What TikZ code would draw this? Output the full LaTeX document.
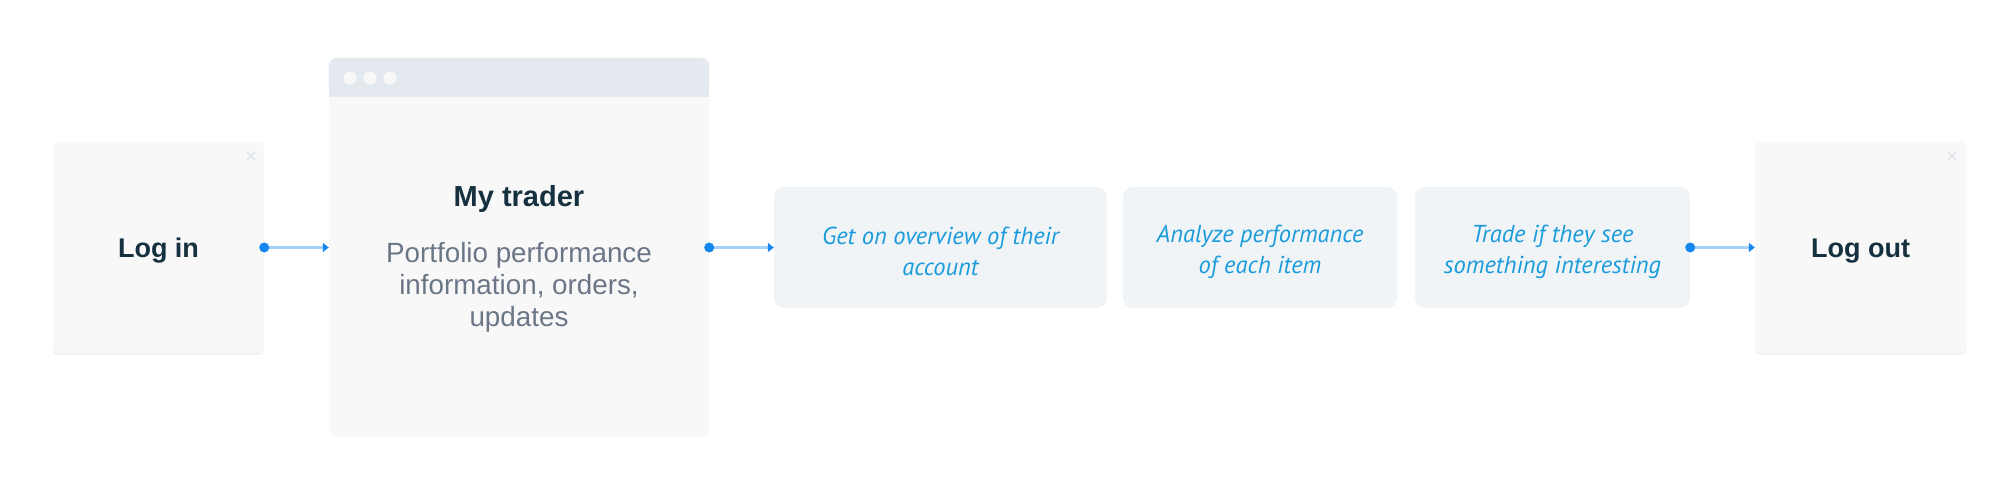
\documentclass[tikz,border=0pt]{standalone}
\usepackage{fontspec}
\setmainfont{Liberation Sans}
\newfontfamily\stepfont{PT Sans}
\usetikzlibrary{arrows.meta}
\definecolor{cardc}{HTML}{F8F8F9}
\definecolor{shadowc}{HTML}{EDF0F4}
\definecolor{barc}{HTML}{E4E9F0}
\definecolor{stepc}{HTML}{F0F4F7}
\definecolor{titlec}{HTML}{15303F}
\definecolor{bodyc}{HTML}{6B7786}
\definecolor{bluetext}{HTML}{1A9BDB}
\definecolor{dotc}{HTML}{1585F0}
\definecolor{linec}{HTML}{A3D1FA}
\definecolor{closec}{HTML}{DDE3E9}
\tikzset{
  card/.style={fill=cardc, rounded corners=4pt, minimum width=211pt, minimum height=211pt, inner sep=0pt,
    preaction={fill=shadowc, transform canvas={yshift=-1.5pt}}},
  window/.style={fill=cardc, rounded corners=8pt, minimum width=380pt, minimum height=379pt, inner sep=0pt},
  stepbox/.style={fill=stepc, rounded corners=10pt, minimum height=121pt, inner sep=0pt},
  steptext/.style={align=center, inner sep=0pt, text=bluetext, font=\stepfont\itshape\fontsize{24.5}{31}\selectfont},
  cardtitle/.style={text=titlec, font=\bfseries\fontsize{27}{32}\selectfont, inner sep=0pt, anchor=base},
  bigtitle/.style={text=titlec, font=\bfseries\fontsize{29}{34}\selectfont, inner sep=0pt, anchor=base},
  bodytext/.style={text=bodyc, font=\fontsize{27.8}{32}\selectfont, align=center, inner sep=0pt},
  conn/.style={draw=linec, line width=2.5pt, -{Triangle[length=6pt,width=9pt,color=dotc]}},
  startdot/.style={fill=dotc},
  closemark/.style={draw=closec, line width=1.3pt}
}
\begin{document}
\begin{tikzpicture}[x=1pt,y=-1pt]
\useasboundingbox (0,0) rectangle (2005,494);
% cards
\node[card] (login) at (158.5,247.5) {};
\node[cardtitle] (logintext) at (158.5,258) {Log in};
\node[card] (logout) at (1860.5,247.5) {};
\node[cardtitle] (logouttext) at (1860.5,258) {Log out};
% close marks
\draw[closemark] (247,152) -- (255,160) (255,152) -- (247,160);
\draw[closemark] (1948,152) -- (1956,160) (1956,152) -- (1948,160);
% window
\node[window] (trader) at (519,247.5) {};
\fill[barc, rounded corners=8pt] (trader.north west) rectangle ([yshift=-39pt]trader.north east);
\fill[barc] ([yshift=-25pt]trader.north west) rectangle ([yshift=-39pt]trader.north east);
\foreach \i/\x in {1/350,2/370,3/390}{
  \fill[cardc] (\x,78) circle (6.5pt);
}
\node[bigtitle] (tradertitle) at (519,207) {My trader};
\node[bodytext] (traderbody) at (519,287) {Portfolio performance\\information, orders,\\updates};
% steps
\node[stepbox, minimum width=333pt] (s1) at (940.5,247.5) {};
\node[steptext] (s1t) at (940.5,251.5) {Get on overview of their\\account};
\node[stepbox, minimum width=274pt] (s2) at (1260,247.5) {};
\node[steptext] (s2t) at (1260,251.5) {Analyze performance\\of each item};
\node[stepbox, minimum width=275pt] (s3) at (1552.5,247.5) {};
\node[steptext] (s3t) at (1552.5,251.5) {Trade if they see\\something interesting};
% connectors
\draw[conn] (login.east) -- (trader.west);
\fill[startdot] (login.east) circle (5pt);
\draw[conn] (trader.east) -- (s1.west);
\fill[startdot] (trader.east) circle (5pt);
\draw[conn] (s3.east) -- (logout.west);
\fill[startdot] (s3.east) circle (5pt);
\end{tikzpicture}
\end{document}
